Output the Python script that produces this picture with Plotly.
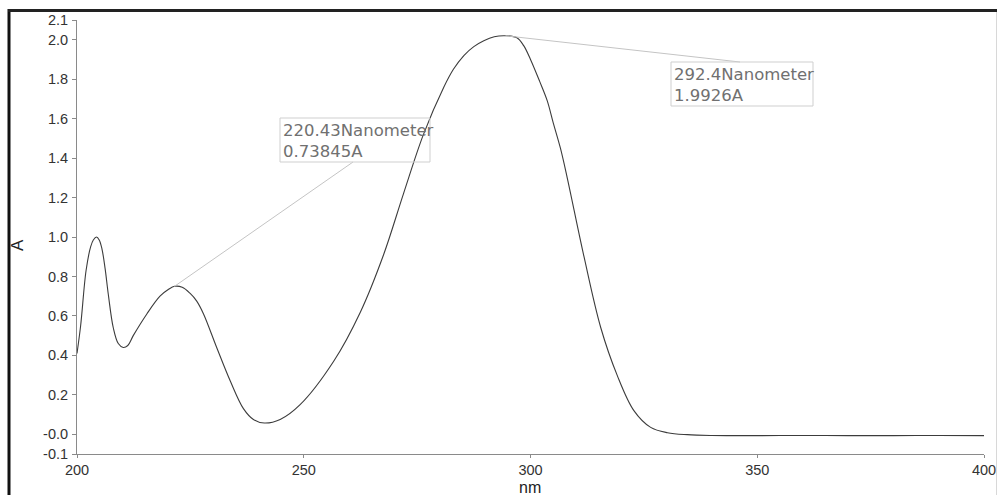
import plotly.graph_objects as go

# ---- data ----
wavelength_nm = [200, 200.8, 202, 203, 203.6, 204.3, 204.9, 205.5, 206.2, 206.9, 208, 209.1, 210.2,
                 211.2, 212.4, 215.4, 218.3, 220.2, 221.5, 223.2, 224.9, 226.4, 227.9, 230.8,
                 233.8, 236.7, 238.9, 241.3, 244.8, 249.2, 256.6, 262.5, 267.6, 272, 276.4,
                 280.9, 283, 285.3, 287.5, 289.7, 292, 294.5, 297, 298.5, 300, 302, 303.7,
                 305, 306.6, 308.1, 311.8, 315.5, 319.1, 322.8, 326.5, 330.2, 334.6, 340,
                 350, 360, 370, 380, 390, 400]
absorbance = [0.41, 0.55, 0.83, 0.95, 0.985, 1.0, 0.985, 0.94, 0.84, 0.71, 0.54, 0.46, 0.44,
              0.45, 0.50, 0.61, 0.70, 0.735, 0.75, 0.745, 0.715, 0.675, 0.61, 0.44,
              0.27, 0.13, 0.075, 0.057, 0.075, 0.15, 0.37, 0.62, 0.91, 1.22, 1.52,
              1.76, 1.85, 1.92, 1.965, 1.995, 2.015, 2.02, 2.01, 1.97, 1.90, 1.79, 1.69,
              1.58, 1.45, 1.30, 0.90, 0.54, 0.30, 0.12, 0.035, 0.008, -0.002, -0.006,
              -0.007, -0.006, -0.007, -0.007, -0.006, -0.007]

y_tickvals = [2.1, 2.0, 1.8, 1.6, 1.4, 1.2, 1.0, 0.8, 0.6, 0.4, 0.2, 0.0, -0.1]
y_ticktext = ["2.1", "2.0", "1.8", "1.6", "1.4", "1.2", "1.0", "0.8", "0.6", "0.4", "0.2", "-0.0", "-0.1"]
x_tickvals = [200, 250, 300, 350, 400]

peak_labels = ["220.43Nanometer<br>0.73845A", "292.4Nanometer<br>1.9926A"]
peak_anchor_nm = [221.5, 294.5]
peak_anchor_a = [0.75, 2.02]

# ---- layout geometry (page pixels; body margin removed in the page) ----
W, H = 998, 495
PLOT_L, PLOT_R, PLOT_T, PLOT_B = 77, 984, 20, 454
PW, PH = PLOT_R - PLOT_L, PLOT_B - PLOT_T
L, T, R, B = PLOT_L, PLOT_T, W - PLOT_R, H - PLOT_B


def px_x(px):
    return (px - PLOT_L) / PW


def px_y(py):
    return (PLOT_B - py) / PH


X0, X1 = 200, 400
Y0, Y1 = -0.1, 2.1


def nm_of_px(px):
    return X0 + (px - PLOT_L) / PW * (X1 - X0)


def a_of_py(py):
    return Y0 + (PLOT_B - py) / PH * (Y1 - Y0)


fig = go.Figure()
fig.add_trace(go.Scatter(
    x=wavelength_nm, y=absorbance, mode="lines",
    line=dict(color="#3c3c3c", width=1.1, shape="spline", smoothing=1.0),
    hoverinfo="x+y", showlegend=False,
))

font_main = "Liberation Sans, Arial, sans-serif"
axis_common = dict(showgrid=False, zeroline=False, showline=True, linecolor="#8a8a8a",
                   linewidth=1, ticks="outside", tickcolor="#8a8a8a",
                   automargin=False,
                   tickfont=dict(family=font_main, size=14.5, color="#333333"))

fig.update_xaxes(range=[X0, X1], tickvals=x_tickvals, ticklen=3, ticklabelstandoff=0,
                 **axis_common)
fig.update_yaxes(range=[Y0, Y1], tickvals=y_tickvals, ticktext=y_ticktext, ticklen=4,
                 ticklabelstandoff=1, **axis_common)

shapes = []
# leader lines from the peaks to the label boxes
box_px = [(280, 118, 430, 162), (671, 62, 813, 106)]
leader_end_px = [(353, 162), (740, 62)]
for i in range(2):
    ex, ey = leader_end_px[i]
    shapes.append(dict(type="line", xref="x", yref="y",
                       x0=peak_anchor_nm[i], y0=peak_anchor_a[i],
                       x1=nm_of_px(ex), y1=a_of_py(ey),
                       line=dict(color="#c4c4c4", width=1)))
    bx0, by0, bx1, by1 = box_px[i]
    shapes.append(dict(type="rect", xref="paper", yref="paper",
                       x0=px_x(bx0), x1=px_x(bx1), y0=px_y(by1), y1=px_y(by0),
                       line=dict(color="#cfcfcf", width=1), fillcolor="rgba(255,255,255,0)"))

# outer frame
shapes.append(dict(type="line", xref="paper", yref="paper", x0=px_x(9), x1=px_x(9),
                   y0=px_y(9), y1=px_y(495), line=dict(color="#111111", width=3)))
shapes.append(dict(type="line", xref="paper", yref="paper", x0=px_x(8), x1=px_x(997),
                   y0=px_y(10.5), y1=px_y(10.5), line=dict(color="#222222", width=3)))
shapes.append(dict(type="line", xref="paper", yref="paper", x0=px_x(996.5), x1=px_x(996.5),
                   y0=px_y(12), y1=px_y(495), line=dict(color="#d8d8d8", width=1)))

annotations = []
for i in range(2):
    bx0, by0, bx1, by1 = box_px[i]
    annotations.append(dict(xref="paper", yref="paper", x=px_x(bx0 + 1), y=px_y(by0 + 1),
                            xanchor="left", yanchor="top", align="left", showarrow=False,
                            text=peak_labels[i],
                            font=dict(family="DejaVu Sans, sans-serif", size=16.5,
                                      color="#707070")))
annotations.append(dict(xref="paper", yref="paper", x=px_x(18), y=px_y(245), text="A",
                        textangle=-90, showarrow=False, xanchor="center", yanchor="middle",
                        font=dict(family=font_main, size=17, color="#222222")))
annotations.append(dict(xref="paper", yref="paper", x=px_x(530), y=px_y(487.5), text="nm",
                        showarrow=False, xanchor="center", yanchor="middle", borderpad=0,
                        font=dict(family=font_main, size=16, color="#222222")))

fig.update_layout(
    width=W, height=H,
    margin=dict(l=L, r=R, t=T, b=B),
    paper_bgcolor="white", plot_bgcolor="white",
    shapes=shapes, annotations=annotations,
    showlegend=False,
)

fig.write_html(
    "out.html",
    config={"displayModeBar": False},
    post_script="document.body.style.margin='0';document.body.style.padding='0';"
                "document.body.style.overflow='hidden';",
)
